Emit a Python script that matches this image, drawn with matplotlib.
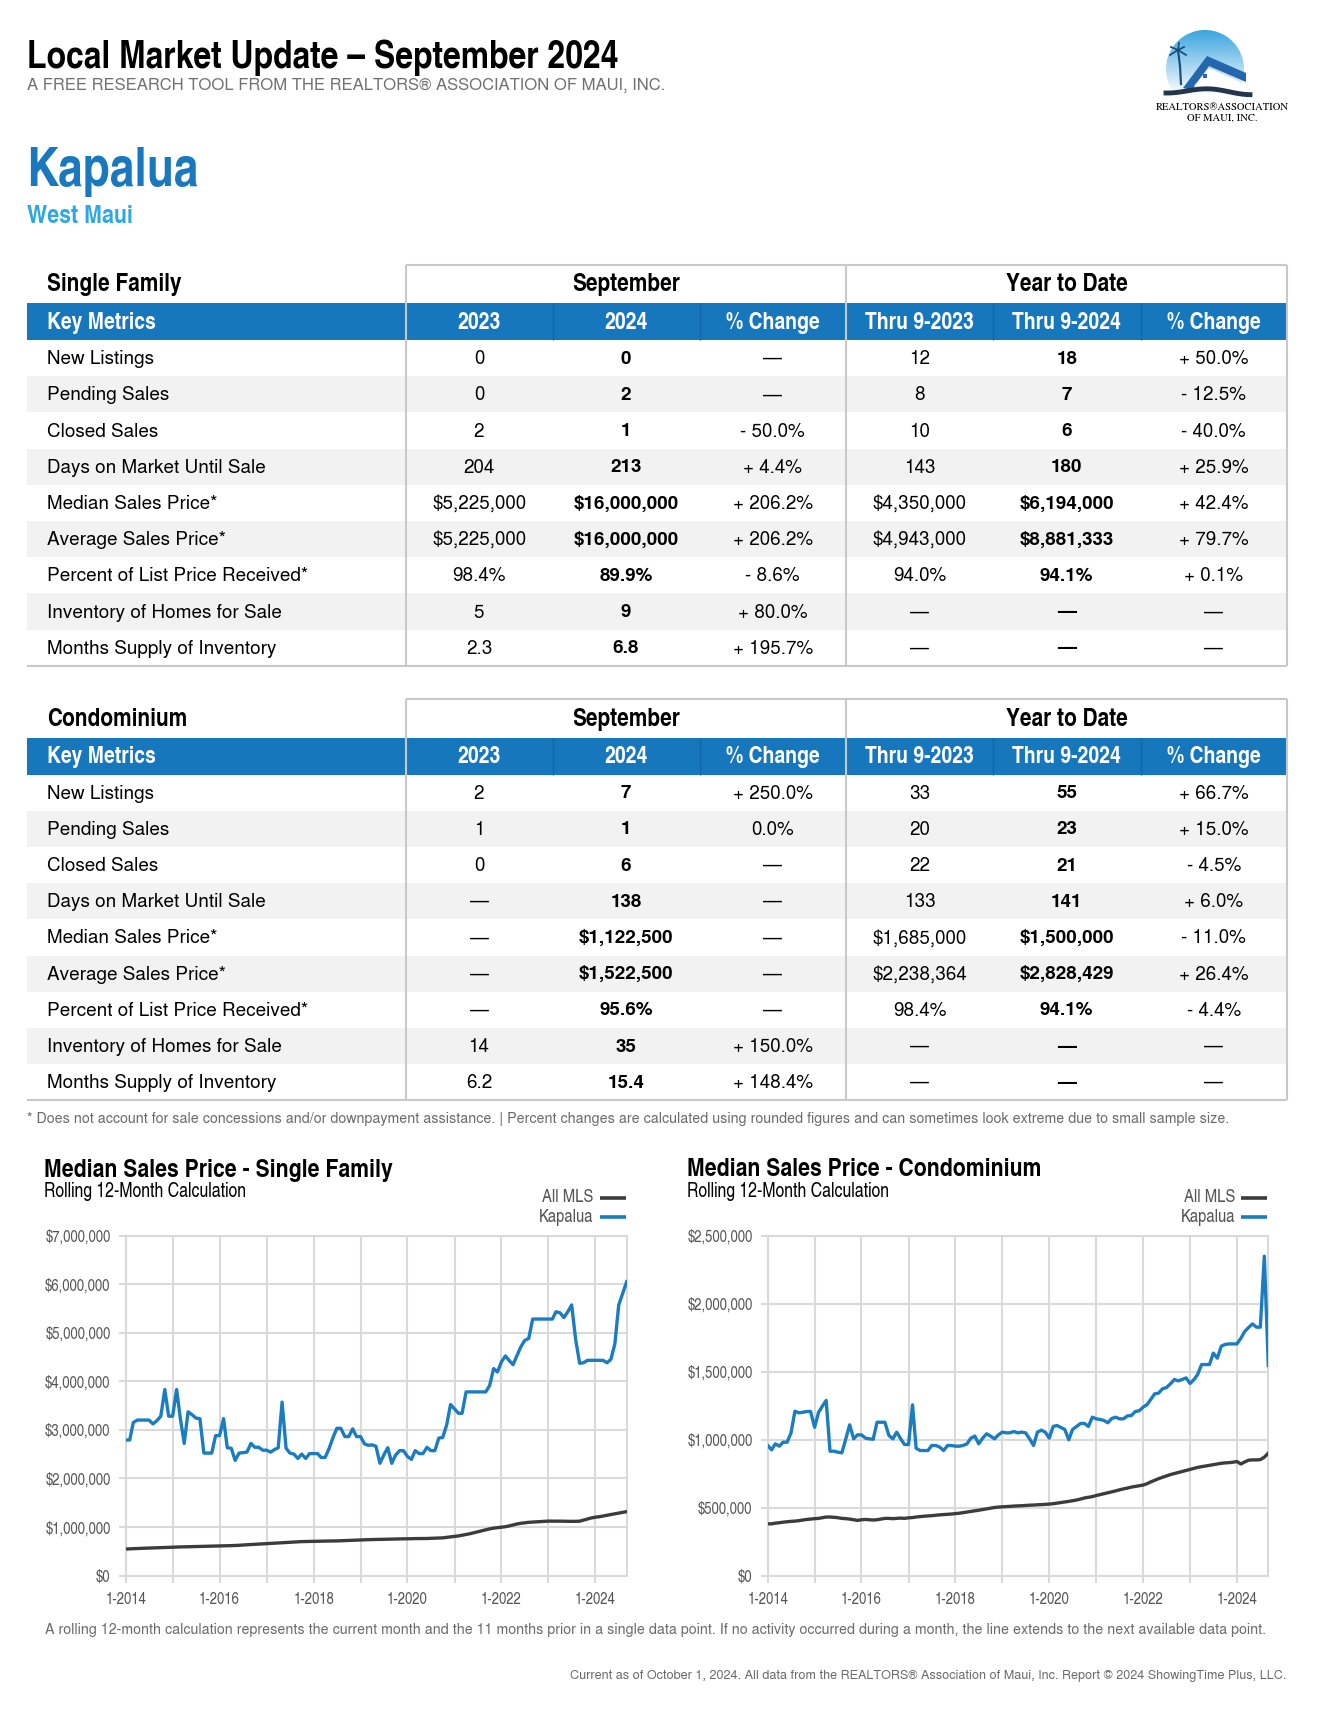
import numpy as np
import pandas as pd
import matplotlib
matplotlib.use("Agg")
import matplotlib.pyplot as plt
import matplotlib.dates as mdates
from matplotlib.ticker import FuncFormatter, MultipleLocator
from matplotlib.patches import Rectangle, Circle, Polygon
from matplotlib.colors import LinearSegmentedColormap

# ---------------- data ----------------
metrics = ["New Listings", "Pending Sales", "Closed Sales", "Days on Market Until Sale",
           "Median Sales Price*", "Average Sales Price*", "Percent of List Price Received*",
           "Inventory of Homes for Sale", "Months Supply of Inventory"]
col_headers = ["2023", "2024", "% Change", "Thru 9-2023", "Thru 9-2024", "% Change"]

sf_sep_2023 = ["0", "0", "2", "204", "$5,225,000", "$5,225,000", "98.4%", "5", "2.3"]
sf_sep_2024 = ["0", "2", "1", "213", "$16,000,000", "$16,000,000", "89.9%", "9", "6.8"]
sf_sep_chg = ["\u2014", "\u2014", "- 50.0%", "+ 4.4%", "+ 206.2%", "+ 206.2%", "- 8.6%", "+ 80.0%", "+ 195.7%"]
sf_ytd_2023 = ["12", "8", "10", "143", "$4,350,000", "$4,943,000", "94.0%", "\u2014", "\u2014"]
sf_ytd_2024 = ["18", "7", "6", "180", "$6,194,000", "$8,881,333", "94.1%", "\u2014", "\u2014"]
sf_ytd_chg = ["+ 50.0%", "- 12.5%", "- 40.0%", "+ 25.9%", "+ 42.4%", "+ 79.7%", "+ 0.1%", "\u2014", "\u2014"]

condo_sep_2023 = ["2", "1", "0", "\u2014", "\u2014", "\u2014", "\u2014", "14", "6.2"]
condo_sep_2024 = ["7", "1", "6", "138", "$1,122,500", "$1,522,500", "95.6%", "35", "15.4"]
condo_sep_chg = ["+ 250.0%", "0.0%", "\u2014", "\u2014", "\u2014", "\u2014", "\u2014", "+ 150.0%", "+ 148.4%"]
condo_ytd_2023 = ["33", "20", "22", "133", "$1,685,000", "$2,238,364", "98.4%", "\u2014", "\u2014"]
condo_ytd_2024 = ["55", "23", "21", "141", "$1,500,000", "$2,828,429", "94.1%", "\u2014", "\u2014"]
condo_ytd_chg = ["+ 66.7%", "+ 15.0%", "- 4.5%", "+ 6.0%", "- 11.0%", "+ 26.4%", "- 4.4%", "\u2014", "\u2014"]

months = pd.date_range("2014-01-01", "2024-09-01", freq="MS")

# median sales price, rolling 12 months, in $ millions
sf_kapalua = [
    2.79, 2.79, 3.15, 3.20, 3.20, 3.20, 3.20, 3.12, 3.19, 3.28, 3.83, 3.28,
    3.28, 3.83, 3.25, 2.72, 3.37, 3.31, 3.24, 3.23, 2.52, 2.52, 2.52, 2.88,
    2.88, 3.23, 2.63, 2.62, 2.37, 2.52, 2.53, 2.54, 2.72, 2.64, 2.64, 2.58,
    2.58, 2.54, 2.59, 2.63, 3.57, 2.62, 2.52, 2.50, 2.41, 2.50, 2.41, 2.51,
    2.51, 2.51, 2.43, 2.43, 2.61, 2.84, 3.03, 3.03, 2.86, 2.86, 3.02, 2.86,
    2.86, 2.71, 2.68, 2.69, 2.66, 2.31, 2.48, 2.63, 2.31, 2.48, 2.57, 2.57,
    2.45, 2.39, 2.57, 2.51, 2.51, 2.64, 2.57, 2.57, 2.83, 2.84, 3.10, 3.52,
    3.43, 3.34, 3.34, 3.78, 3.78, 3.78, 3.78, 3.78, 3.78, 3.91, 4.26, 4.19,
    4.40, 4.52, 4.43, 4.34, 4.52, 4.71, 4.84, 4.88, 5.28, 5.28, 5.28, 5.28,
    5.28, 5.28, 5.43, 5.41, 5.31, 5.43, 5.57, 4.86, 4.37, 4.38, 4.43, 4.43,
    4.43, 4.43, 4.43, 4.38, 4.45, 4.77, 5.57, 5.81, 6.05]
sf_all_mls = [
    0.545, 0.548, 0.552, 0.556, 0.560, 0.562, 0.565, 0.568, 0.570, 0.573, 0.576, 0.580,
    0.582, 0.585, 0.588, 0.590, 0.592, 0.595, 0.598, 0.600, 0.602, 0.603, 0.605, 0.607,
    0.608, 0.610, 0.612, 0.615, 0.618, 0.622, 0.628, 0.633, 0.638, 0.643, 0.648, 0.652,
    0.656, 0.660, 0.665, 0.670, 0.675, 0.680, 0.685, 0.690, 0.695, 0.698, 0.700, 0.702,
    0.705, 0.707, 0.708, 0.710, 0.710, 0.710, 0.712, 0.715, 0.720, 0.722, 0.725, 0.728,
    0.730, 0.735, 0.738, 0.740, 0.742, 0.745, 0.748, 0.750, 0.750, 0.750, 0.752, 0.755,
    0.755, 0.757, 0.760, 0.760, 0.762, 0.762, 0.765, 0.768, 0.770, 0.775, 0.785, 0.795,
    0.805, 0.815, 0.830, 0.845, 0.860, 0.880, 0.900, 0.920, 0.940, 0.960, 0.975, 0.985,
    0.995, 1.005, 1.020, 1.040, 1.060, 1.075, 1.085, 1.095, 1.100, 1.105, 1.110, 1.115,
    1.120, 1.120, 1.122, 1.120, 1.118, 1.115, 1.115, 1.115, 1.118, 1.140, 1.165, 1.185,
    1.200, 1.210, 1.225, 1.240, 1.255, 1.270, 1.285, 1.300, 1.315]
condo_kapalua = [
    0.956, 0.924, 0.968, 0.951, 0.980, 0.980, 1.047, 1.208, 1.196, 1.200, 1.206, 1.206,
    1.090, 1.200, 1.243, 1.287, 0.914, 0.914, 0.907, 0.902, 1.005, 1.108, 1.005, 1.034,
    1.034, 1.010, 1.005, 1.002, 1.127, 1.127, 1.127, 1.030, 1.005, 1.054, 1.005, 0.963,
    0.963, 1.255, 0.936, 0.919, 0.919, 0.919, 0.956, 0.956, 0.944, 0.919, 0.956, 0.956,
    0.951, 0.951, 0.956, 0.968, 1.010, 1.025, 0.968, 1.010, 1.042, 1.025, 1.005, 1.034,
    1.054, 1.049, 1.049, 1.059, 1.049, 1.054, 1.049, 1.005, 0.956, 1.054, 1.069, 1.054,
    1.010, 1.096, 1.103, 1.088, 1.074, 0.998, 1.074, 1.096, 1.118, 1.118, 1.096, 1.164,
    1.152, 1.147, 1.140, 1.123, 1.154, 1.164, 1.152, 1.152, 1.174, 1.176, 1.206, 1.211,
    1.238, 1.257, 1.294, 1.336, 1.341, 1.373, 1.382, 1.409, 1.441, 1.431, 1.441, 1.453,
    1.412, 1.441, 1.478, 1.551, 1.551, 1.551, 1.635, 1.598, 1.686, 1.699, 1.703, 1.703,
    1.703, 1.745, 1.794, 1.824, 1.850, 1.826, 1.826, 2.348, 1.544]
condo_all_mls = [
    0.380, 0.380, 0.385, 0.388, 0.392, 0.395, 0.398, 0.400, 0.403, 0.408, 0.412, 0.415,
    0.418, 0.420, 0.425, 0.430, 0.430, 0.428, 0.425, 0.420, 0.418, 0.415, 0.410, 0.405,
    0.410, 0.412, 0.410, 0.408, 0.410, 0.415, 0.420, 0.420, 0.418, 0.420, 0.422, 0.420,
    0.424, 0.426, 0.430, 0.433, 0.436, 0.438, 0.440, 0.443, 0.446, 0.448, 0.450, 0.452,
    0.455, 0.458, 0.462, 0.466, 0.470, 0.475, 0.480, 0.485, 0.490, 0.495, 0.500, 0.503,
    0.505, 0.507, 0.508, 0.510, 0.512, 0.513, 0.515, 0.517, 0.518, 0.520, 0.521, 0.523,
    0.525, 0.528, 0.532, 0.536, 0.540, 0.545, 0.550, 0.555, 0.562, 0.570, 0.575, 0.580,
    0.588, 0.595, 0.602, 0.608, 0.615, 0.622, 0.630, 0.637, 0.643, 0.650, 0.655, 0.660,
    0.665, 0.675, 0.688, 0.700, 0.712, 0.722, 0.732, 0.742, 0.750, 0.758, 0.765, 0.772,
    0.780, 0.788, 0.795, 0.800, 0.805, 0.810, 0.815, 0.820, 0.825, 0.828, 0.830, 0.833,
    0.838, 0.820, 0.835, 0.848, 0.850, 0.850, 0.852, 0.870, 0.900]

# ---------------- style ----------------
W, H = 1322, 1714
COND = ["TeX Gyre Heros Cn", "Roboto Condensed", "Liberation Sans", "DejaVu Sans"]
REG = ["TeX Gyre Heros", "Liberation Sans", "DejaVu Sans"]
SERIF = ["TeX Gyre Termes", "Liberation Serif", "DejaVu Serif"]
BLUE = "#1677BD"
BLUE_DARK = "#1468A8"
LINE_BLUE = "#1B7CBF"
LINE_GRAY = "#3C3C3C"
ZEBRA = "#F2F2F2"
BORDER = "#C8C8C8"
GRID = "#DADADA"
TICK = "#555555"
NOTE = "#6B6B6B"

fig = plt.figure(figsize=(W / 100, H / 100), dpi=100)
fig.patch.set_facecolor("white")
bg = fig.add_axes([0, 0, 1, 1])
bg.set_xlim(0, W)
bg.set_ylim(H, 0)
bg.set_autoscale_on(False)
bg.axis("off")


def txt(x, y, s, size, color="black", family=REG, weight="normal", ha="left", va="baseline", z=5):
    bg.text(x, y, s, fontsize=size, color=color, family=family, weight=weight,
            ha=ha, va=va, zorder=z)


def hline(x0, x1, y, color=BORDER, lw=1.5, z=4):
    bg.plot([x0, x1], [y, y], color=color, lw=lw, zorder=z, solid_capstyle="butt")


def vline(x, y0, y1, color=BORDER, lw=1.5, z=4):
    bg.plot([x, x], [y0, y1], color=color, lw=lw, zorder=z, solid_capstyle="butt")


# ---------------- header ----------------
txt(27, 68, "Local Market Update \u2013 September 2024", 28, family=COND, weight="bold")
txt(27, 90, "A FREE RESEARCH TOOL FROM THE REALTORS\u00ae ASSOCIATION OF MAUI, INC.", 12.0, color="#707070")
txt(26, 186, "Kapalua", 39, color="#1A79BE", family=COND, weight="bold")
txt(27, 223, "West Maui", 18.8, color="#2FA7E0", family=COND, weight="bold")

# logo
cx, cy, r = 1205, 69, 39
grad = np.linspace(0, 1, 100).reshape(-1, 1) * np.ones((1, 10))
sky = LinearSegmentedColormap.from_list("sky", ["#3AA5DE", "#9FD3F0", "#FFFFFF"])
im = bg.imshow(grad, cmap=sky, extent=(cx - r, cx + r, 96, cy - r), aspect="auto", zorder=2)
clip = Circle((cx, cy), r, transform=bg.transData, facecolor="none", edgecolor="none")
bg.add_patch(clip)
im.set_clip_path(clip)
bg.set_xlim(0, W)
bg.set_ylim(H, 0)
bg.add_patch(Polygon([(1183, 88), (1207, 56), (1246, 73), (1246, 82), (1209, 66), (1192, 90)],
                     closed=True, facecolor="#2467AE", edgecolor="none", zorder=3))
bg.add_patch(Polygon([(1194, 86), (1209, 68), (1240, 82), (1240, 90)], closed=True,
                     facecolor="#FFFFFF", edgecolor="none", zorder=3))
bg.add_patch(Rectangle((1203, 74), 4, 4, facecolor="#2467AE", edgecolor="none", zorder=3))
bg.plot([1181, 1180, 1178], [84, 66, 50], color="#1D4F7C", lw=1.6, zorder=3)
for dx, dy in [(-8, 5), (-7, -3), (6, -3), (8, 5), (1, -7)]:
    bg.plot([1178, 1178 + dx], [50, 50 + dy], color="#1D4F7C", lw=1.3, zorder=3)
wx = np.linspace(1166, 1250, 40)
bg.plot(wx, 93 - 5 * np.sin((wx - 1166) / 84 * np.pi) ** 2 + (wx - 1166) * 0.02,
        color="#24344C", lw=3.5, zorder=3)
txt(1222, 109.5, "REALTORS\u00aeASSOCIATION", 7.6, family=SERIF, ha="center")
txt(1222, 121, "OF MAUI, INC.", 7.6, family=SERIF, ha="center")

# ---------------- tables ----------------
LEFT, RIGHT = 27, 1287
col_edges = [405.5, 552.5, 699.5, 846, 993, 1140.5, 1287]
col_centers = [(col_edges[i] + col_edges[i + 1]) / 2 for i in range(6)]


def draw_table(top, title, cols):
    hdr_h, blue_h, row_h = 38.5, 37.0, 36.2
    y_blue = top + hdr_h
    y_rows = y_blue + blue_h
    bottom = y_rows + 9 * row_h
    for i in range(9):
        if i % 2 == 1:
            bg.add_patch(Rectangle((LEFT, y_rows + i * row_h), RIGHT - LEFT, row_h,
                                   facecolor=ZEBRA, edgecolor="none", zorder=1))
    bg.add_patch(Rectangle((LEFT, y_blue), RIGHT - LEFT, blue_h,
                           facecolor=BLUE, edgecolor="none", zorder=2))
    for x in [col_edges[1], col_edges[2], col_edges[4], col_edges[5]]:
        vline(x, y_blue, y_blue + blue_h, color=BLUE_DARK, lw=1.0, z=3)
    hline(col_edges[0], RIGHT, top)
    vline(col_edges[0], top, bottom)
    vline(col_edges[3], top, bottom)
    vline(RIGHT, top, bottom)
    hline(LEFT, RIGHT, bottom)
    # headers
    txt(47, top + hdr_h / 2 + 1, title, 18.3, family=COND, weight="bold", va="center")
    txt((col_edges[0] + col_edges[3]) / 2, top + hdr_h / 2 + 1, "September", 18.3,
        family=COND, weight="bold", ha="center", va="center")
    txt((col_edges[3] + col_edges[6]) / 2, top + hdr_h / 2 + 1, "Year to Date", 18.3,
        family=COND, weight="bold", ha="center", va="center")
    txt(47, y_blue + blue_h / 2 + 1, "Key Metrics", 17, color="white", family=COND,
        weight="bold", va="center")
    for c, h in zip(col_centers, col_headers):
        txt(c, y_blue + blue_h / 2 + 1, h, 17, color="white", family=COND, weight="bold",
            ha="center", va="center")
    for i, m in enumerate(metrics):
        yc = y_rows + (i + 0.5) * row_h + 1
        txt(47, yc, m, 13.6, va="center")
        for j, col in enumerate(cols):
            txt(col_centers[j], yc, col[i], 13.6, weight="bold" if j in (1, 4) else "normal",
                ha="center", va="center")


draw_table(264.5, "Single Family",
           [sf_sep_2023, sf_sep_2024, sf_sep_chg, sf_ytd_2023, sf_ytd_2024, sf_ytd_chg])
draw_table(699.0, "Condominium",
           [condo_sep_2023, condo_sep_2024, condo_sep_chg, condo_ytd_2023, condo_ytd_2024, condo_ytd_chg])

txt(27, 1119, "* Does not account for sale concessions and/or downpayment assistance. | Percent changes are "
    "calculated using rounded figures and can sometimes look extreme due to small sample size.",
    10.25, color=NOTE, va="center")


# ---------------- charts ----------------
def draw_chart(x0, x1, title, kap, mls, ymax, ystep, tx):
    y0, y1 = 1235.5, 1575.5
    ax = fig.add_axes([x0 / W, 1 - y1 / H, (x1 - x0) / W, (y1 - y0) / H])
    ax.plot(months, mls, color=LINE_GRAY, lw=2.4, zorder=3)
    ax.plot(months, kap, color=LINE_BLUE, lw=2.4, zorder=4)
    ax.set_xlim(months[0], months[-1])
    ax.set_ylim(0, ymax)
    ax.yaxis.set_major_locator(MultipleLocator(ystep))
    ax.yaxis.set_major_formatter(FuncFormatter(lambda v, p: f"${v * 1e6:,.0f}"))
    ax.xaxis.set_major_locator(mdates.YearLocator(1, month=1, day=1))
    ax.xaxis.set_major_formatter(FuncFormatter(
        lambda v, p: f"1-{mdates.num2date(v).year}" if mdates.num2date(v).year % 2 == 0 else ""))
    ax.grid(True, color=GRID, lw=1.5, zorder=0)
    ax.set_axisbelow(True)
    for s in ax.spines.values():
        s.set_color(GRID)
        s.set_linewidth(1.5)
    ax.tick_params(length=5, width=1.5, color=GRID, labelcolor=TICK, labelsize=11.5,
                   labelfontfamily=COND)
    ax.tick_params(axis="y", pad=6)
    ax.tick_params(axis="x", pad=7)
    # titles & legend
    txt(tx, 1176.5, title, 18.6, family=COND, weight="bold")
    txt(tx, 1197, "Rolling 12-Month Calculation", 13.9, family=COND)
    txt(x1 - 33, 1198, "All MLS", 13, color=TICK, family=COND, ha="right", va="center")
    txt(x1 - 33, 1217, "Kapalua", 13, color=TICK, family=COND, ha="right", va="center")
    hline(x1 - 27, x1 - 1, 1198, color=LINE_GRAY, lw=2.6, z=5)
    hline(x1 - 27, x1 - 1, 1217, color=LINE_BLUE, lw=2.6, z=5)
    return ax


draw_chart(125.7, 626.7, "Median Sales Price - Single Family", sf_kapalua, sf_all_mls, 7.0, 1.0, 44)
draw_chart(767.7, 1268.3, "Median Sales Price - Condominium", condo_kapalua, condo_all_mls, 2.5, 0.5, 687)

txt(656, 1630, "A rolling 12-month calculation represents the current month and the 11 months prior in a "
    "single data point. If no activity occurred during a month, the line extends to the next available data point.",
    10.25, color=NOTE, ha="center", va="center")
txt(1287, 1676, "Current as of October 1, 2024. All data from the REALTORS\u00ae Association of Maui, Inc. "
    "Report \u00a9 2024 ShowingTime Plus, LLC.", 9.1, color=NOTE, ha="right", va="center")

fig.savefig("out.png", dpi=100, facecolor="white")
